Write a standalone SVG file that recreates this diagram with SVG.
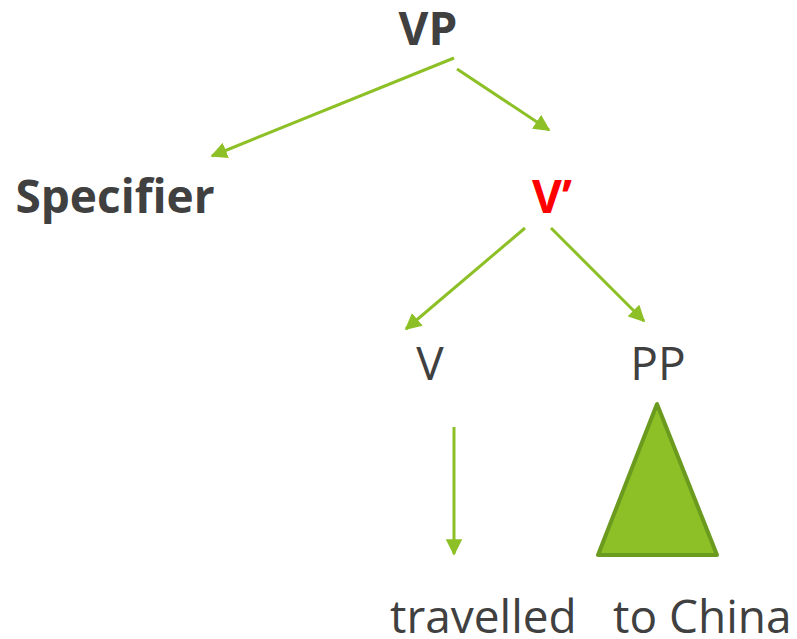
<svg xmlns="http://www.w3.org/2000/svg" width="797" height="639" viewBox="0 0 797 639">
<style>
.t{font-family:"Open Sans","DejaVu Sans",sans-serif;font-size:46px;fill:#404040}
.b{font-weight:bold}
.c{stroke:#8DC026;stroke-width:3;fill:none;marker-end:url(#ah)}
</style>
<defs>
<marker id="ah" viewBox="0 0 10 10" refX="9" refY="5" markerWidth="5.5" markerHeight="5.5" orient="auto" markerUnits="strokeWidth">
<path d="M0,0 L10,5 L0,10 z" fill="#8DC026"/>
</marker>
</defs>
<rect width="797" height="639" fill="#fff"/>
<g id="connectors">
<line class="c" x1="454" y1="58" x2="212" y2="156"/>
<line class="c" x1="457" y1="69" x2="549" y2="130"/>
<line class="c" x1="525" y1="228" x2="406" y2="329"/>
<line class="c" x1="551" y1="228" x2="644" y2="321"/>
<line class="c" x1="454" y1="427" x2="454" y2="554"/>
</g>
<g id="VP"><text class="t b" x="428" y="45" text-anchor="middle">VP</text></g>
<g id="Specifier"><text class="t b" x="115" y="213" text-anchor="middle">Specifier</text></g>
<g id="Vbar"><text class="t b" x="552" y="213" text-anchor="middle" style="fill:#FF0000">V’</text></g>
<g id="V"><text class="t" x="430" y="380" text-anchor="middle">V</text></g>
<g id="PP"><text class="t" x="658" y="380" text-anchor="middle">PP</text></g>
<g id="triangle"><polygon points="657,404 598,555 717,555" fill="#8DBF26" stroke="#6A9A1E" stroke-width="4" stroke-linejoin="round"/></g>
<g id="travelled"><text class="t" x="390" y="633">travelled</text></g>
<g id="toChina"><text class="t" x="613" y="633">to China</text></g>
</svg>
